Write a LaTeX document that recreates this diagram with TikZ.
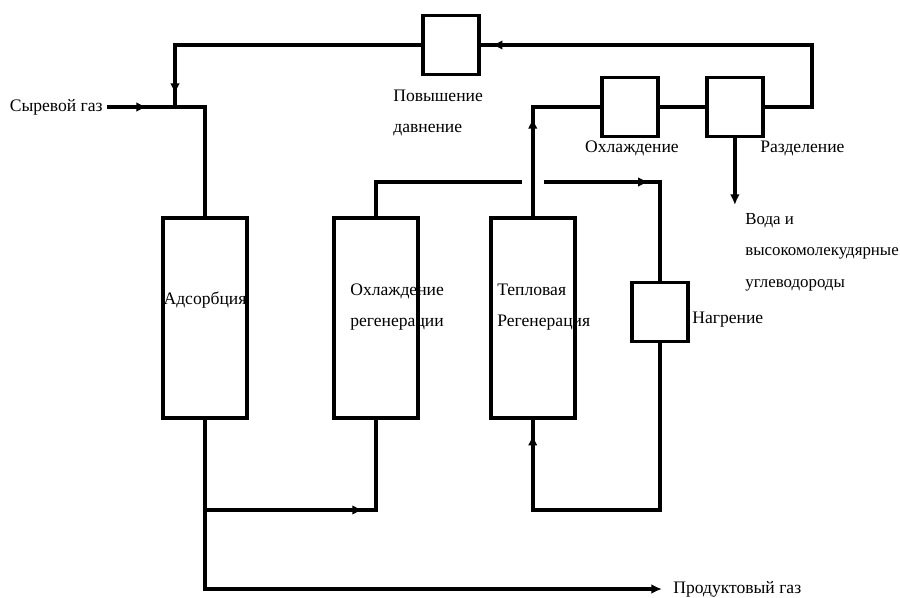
\documentclass[tikz,border=0pt]{standalone}
\usepackage{fontspec}
\setmainfont{Liberation Serif}
\usetikzlibrary{positioning}
\usetikzlibrary{arrows.meta}
\usetikzlibrary{decorations.markings}

\begin{document}
\begin{tikzpicture}[
    vessel/.style={rectangle, draw, line width=2.2pt, minimum width=1.68cm, minimum height=4cm},
    unit/.style={rectangle, draw, line width=2.2pt, minimum width=1.12cm, minimum height=1.18cm},
    pipe/.style={line width=2.2pt},
    endarrow/.style={-{Latex[length=6pt,width=5.5pt]}},
    flow/.style={decoration={markings, mark=at position #1 with {\arrow{Latex[length=6pt,width=5.5pt]}}}, postaction={decorate}},
    tag/.style={font=\fontsize{10}{18}\selectfont, inner sep=0pt, align=left}
]
\useasboundingbox (0,0) rectangle (18,11.94);

% Components
\node[vessel] (ads) at (4.1,5.58) {};
\node[vessel] (coolreg) [right=1.66cm of ads] {};
\node[vessel] (thermreg) [right=1.38cm of coolreg] {};
\node[unit] (heater) at (13.2,5.7) {};
\node[unit] (comp) at (9.02,11.04) {};
\node[unit] (cooler) at (12.6,9.8) {};
\node[unit] (sep) [right=0.9cm of cooler] {};

% Labels
\node[tag] (adslbl) at (ads.center |- 0,5.94) {Адсорбция};
\node[tag, anchor=west] (coolreglbl) at (7.0,5.8) {Охлаждение\\регенерации};
\node[tag, anchor=west] (thermreglbl) at (9.94,5.8) {Тепловая\\Регенерация};
\node[tag, anchor=west] (heaterlbl) at (13.84,5.54) {Нагрение};
\node[tag, anchor=east] (feedlbl) at (2.06,9.8) {Сыревой газ};
\node[tag, anchor=west] (complbl) at (7.86,9.68) {Повышение\\давнение};
\node[tag] (coolerlbl) at (12.64,8.98) {Охлаждение};
\node[tag, anchor=west] (seplbl) at (15.2,8.98) {Разделение};
\node[tag, anchor=west, font=\fontsize{9.6}{18}\selectfont] (waterlbl) at (14.9,6.9) {Вода и\\высокомолекудярные\\углеводороды};
\node[tag, anchor=west] (prodlbl) at (13.46,0.16) {Продуктовый газ};

% Pipe corners
\coordinate (feedin) at (2.14,9.8);
\coordinate (merge) at (3.5,9.8);
\coordinate (feedturn) at (ads.north |- merge);
\coordinate (recturn) at (merge |- comp.west);
\coordinate (septurn) at (16.24,9.8);
\coordinate (topturn) at (septurn |- comp.east);
\coordinate (hotturn) at (thermreg.north |- cooler.west);
\coordinate (water) at (sep.south |- 0,7.84);
\coordinate (midturn) at (coolreg.north |- 0,8.3);
\coordinate (gapl) at ([xshift=-0.22cm]thermreg.north |- midturn);
\coordinate (gapr) at ([xshift=0.22cm]thermreg.north |- midturn);
\coordinate (heatturn) at (heater.north |- midturn);
\coordinate (lowturn) at (heater.south |- 0,1.74);
\coordinate (retturn) at (thermreg.south |- lowturn);
\coordinate (split) at (ads.south |- lowturn);
\coordinate (coolturn) at (coolreg.south |- lowturn);
\coordinate (prodturn) at (ads.south |- 0,0.16);
\coordinate (prodout) at (13.24,0.16);

% Flows
\draw[pipe, flow=0.8cm] (feedin) -- (feedturn) -- (ads.north);
\draw[pipe, flow=-0.26cm] (comp.west) -- (recturn) -- (merge);
\draw[pipe, flow=-0.22cm] (sep.east) -- (septurn) -- (topturn) -- (comp.east);
\draw[pipe, flow=1.96cm] (thermreg.north) -- (hotturn) -- (cooler.west);
\draw[pipe] (cooler.east) -- (sep.west);
\draw[pipe, endarrow] (sep.south) -- (water);
\draw[pipe] (coolreg.north) -- (midturn) -- (gapl);
\draw[pipe, flow=2.1cm] (gapr) -- (heatturn) -- (heater.north);
\draw[pipe, flow=-0.3cm] (heater.south) -- (lowturn) -- (retturn) -- (thermreg.south);
\draw[pipe, flow=-2.06cm] (ads.south) -- (split) -- (coolturn) -- (coolreg.south);
\draw[pipe, endarrow] (split) -- (prodturn) -- (prodout);

\end{tikzpicture}
\end{document}
